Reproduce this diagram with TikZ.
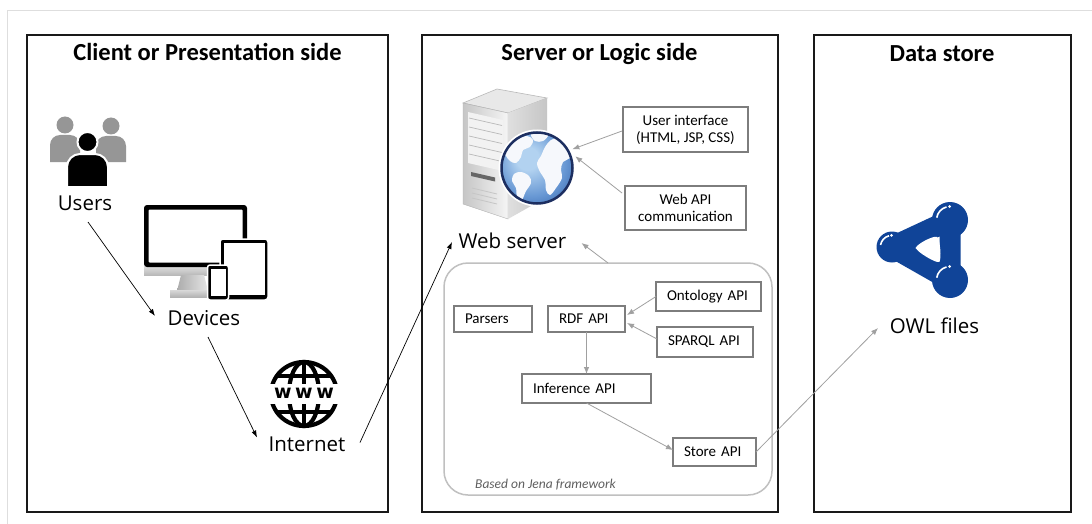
\documentclass[tikz,border=0pt]{standalone}
\usepackage{fontspec}
\setmainfont{Carlito}
\newfontfamily\labelfont{Open Sans}
\newfontfamily\symfont{DejaVu Sans}
\usetikzlibrary{arrows.meta,calc}

\definecolor{panelblack}{RGB}{25,25,25}
\definecolor{boxgray}{RGB}{125,125,125}
\definecolor{arrgray}{RGB}{160,160,160}
\definecolor{framegray}{RGB}{192,192,192}
\definecolor{outergray}{RGB}{222,222,222}
\definecolor{notegray}{RGB}{95,95,95}
\definecolor{usergray}{RGB}{150,150,150}
\definecolor{owlblue}{RGB}{16,68,152}
\definecolor{globenavy}{RGB}{28,46,96}
\definecolor{globelight}{RGB}{178,210,240}
\definecolor{globemid}{RGB}{104,152,212}
\definecolor{globedark}{RGB}{40,88,162}
\definecolor{landwhite}{RGB}{246,248,252}

% soft blue sphere for the server globe
\pgfdeclareradialshading{globeshade}{\pgfpoint{-8bp}{8bp}}{%
  color(0bp)=(globelight); color(8bp)=(globelight);
  color(24bp)=(globemid); color(40bp)=(globedark); color(50bp)=(globedark)}

\begin{document}
\begin{tikzpicture}[x=1pt,y=-1pt,
  panel/.style={draw=panelblack, line width=1.6pt, rectangle, inner sep=0pt, outer sep=0pt},
  paneltitle/.style={font=\fontsize{24.5}{28}\selectfont\bfseries, anchor=base, inner sep=0pt},
  biglabel/.style={font=\labelfont\fontsize{20.5}{24}\selectfont, anchor=base, inner sep=0pt},
  apibox/.style={draw=boxgray, line width=1.3pt, fill=white, rectangle,
    font=\fontsize{15}{17}\selectfont, inner xsep=11pt, inner ysep=0pt, align=left, outer sep=0pt},
  uibox/.style={draw=boxgray, line width=1.3pt, fill=white, rectangle,
    font=\fontsize{15}{17}\selectfont, align=center, inner sep=0pt, outer sep=0pt},
  darrow/.style={-{Latex[length=7pt,width=5pt]}, line width=0.7pt, black},
  garrow/.style={-{Latex[length=7pt,width=5.5pt]}, line width=0.8pt, arrgray}]

\useasboundingbox (0,0) rectangle (1092,524);
\fill[white] (0,0) rectangle (1092,524);

% outer sheet edge
\draw[outergray, line width=1pt] (7,524) -- (7,11) -- (1092,11);

% the three tiers
\node[panel, minimum width=361pt, minimum height=477pt] (client) at (207.5,273.5) {};
\node[panel, minimum width=356pt, minimum height=477pt] (server) at (600,273.5) {};
\node[panel, minimum width=257pt, minimum height=477pt] (data) at (942.5,273.5) {};

\node[paneltitle] (clienttitle) at (207.5,60.5) {Client or Presentation side};
\node[paneltitle] (servertitle) at (599.5,61) {Server or Logic side};
\node[paneltitle] (datatitle) at (942,61.5) {Data store};

% ---- users icon
\fill[usergray] (65,125) circle [radius=8.5];
\fill[usergray] (111,126) circle [radius=8.5];
\fill[usergray] (50,162) -- (50,145) arc[start angle=180, end angle=270, radius=10]
  -- (70,135) arc[start angle=270, end angle=360, radius=10] -- (80,162) -- cycle;
\fill[usergray] (96,162) -- (96,146) arc[start angle=180, end angle=270, radius=10]
  -- (116,136) arc[start angle=270, end angle=360, radius=10] -- (126,162) -- cycle;
\filldraw[fill=black, draw=white, line width=2pt] (67,187) -- (67,167) arc[start angle=180, end angle=270, radius=13]
  -- (95,154) arc[start angle=270, end angle=360, radius=13] -- (108,187) -- cycle;
\filldraw[fill=black, draw=white, line width=2pt] (87.5,142) circle [radius=10];

% ---- devices icon
\shade[top color=gray!25, bottom color=gray!55] (144,266) rectangle (240,275);
\shade[left color=gray!65, right color=gray!20] (181,275) -- (204,275) -- (208,291) -- (177,291) -- cycle;
\shade[top color=gray!30, bottom color=gray!60] (170,290) rectangle (214,297);
\fill[black, rounded corners=3pt] (144,205) rectangle (247,267);
\fill[white, rounded corners=1pt] (148.5,209.5) rectangle (242.5,262.5);
\filldraw[fill=black, draw=white, line width=1.5pt, rounded corners=3pt] (220,239) rectangle (268,300);
\fill[white] (223.5,242.5) rectangle (264.5,295);
\filldraw[fill=black, draw=white, line width=1.5pt, rounded corners=2.5pt] (207.5,265) rectangle (228.5,300);
\fill[white] (210.5,268.5) rectangle (225.5,296);

% ---- www globe
\begin{scope}[line width=4.2pt, black]
  \draw (304,394) ellipse [x radius=33, y radius=32];
  \draw (304,362) -- (304,426);
  \draw (304,394) ellipse [x radius=15, y radius=32];
  \draw (277,376) -- (331,376);
  \draw (277,412) -- (331,412);
\end{scope}
\fill[white] (265,384) rectangle (343,404);
\node[font=\symfont\bfseries\fontsize{19}{19}\selectfont, inner sep=0pt] (www) at (304,393)
  {w\kern3.5pt w\kern3.5pt w};

% ---- web server tower
\fill[gray!18, draw=gray!55, line width=0.6pt] (463,103) -- (497,89) -- (547,98) -- (508,113) -- cycle;
\shade[left color=gray!45, right color=gray!8, draw=gray!60] (463,103) -- (508,113) -- (508,219) -- (463,204) -- cycle;
\shade[left color=gray!25, right color=gray!45] (508,113) -- (547,98) -- (547,197) -- (508,219) -- cycle;
\fill[gray!10] (468,112) -- (503,120) -- (503,171) -- (468,163) -- cycle;
\foreach \yy in {118,127,136,145,154} \draw[gray!55, line width=0.7pt] (469,\yy) -- (502,\yy+7.5);
\fill[gray!80!black] (471,172) -- (495,177.5) -- (495,181.5) -- (471,176) -- cycle;
\foreach \yy in {188,193,198} \draw[gray!45, line width=0.8pt] (472,\yy) -- (497,\yy+6);

% globe on the server
\node[circle, minimum size=80pt, inner sep=0pt, outer sep=0pt] (sglobe) at (537,168) {};
\fill[white] (sglobe.center) circle [radius=38.5];
\shade[shading=globeshade] (sglobe.center) circle [radius=35.5];
\begin{scope}
  \clip (sglobe.center) circle [radius=35.5];
  % Americas
  \fill[landwhite] plot[smooth cycle, tension=0.6] coordinates {(503,150) (509,142) (518,139) (527,136) (533,140) (530,147) (523,150) (521,157) (516,163) (510,161) (506,156)};
  \fill[landwhite] plot[smooth cycle, tension=0.6] coordinates {(514,174) (521,172) (529,176) (531,183) (526,191) (521,202) (517,199) (516,188) (512,181)};
  % Greenland
  \fill[landwhite] plot[smooth cycle, tension=0.6] coordinates {(531,134) (540,132) (548,135) (543,141) (535,141)};
  % Europe, Africa
  \fill[landwhite] plot[smooth cycle, tension=0.6] coordinates {(545,147) (551,140) (559,138) (568,142) (573,150) (570,158) (563,162) (561,170) (562,178) (556,188) (550,195) (546,190) (545,180) (540,172) (537,163) (541,156)};
\end{scope}
\draw[globenavy, line width=2.5pt] (sglobe.center) circle [radius=35.5];

% ---- OWL icon
\coordinate (owla) at (892,247);
\coordinate (owlb) at (950,220);
\coordinate (owlc) at (950,280);
\draw[owlblue, line width=21pt, line join=round] (owla) -- (owlb) -- (owlc) -- cycle;
\fill[white] plot[smooth cycle, tension=0.5] coordinates {(916,248) (937,237) (939,262)};
\fill[owlblue] (owla) circle [radius=15.5];
\fill[owlblue] (owlb) circle [radius=18];
\fill[owlblue] (owlc) circle [radius=18];
\foreach \c/\r in {owla/15.5, owlb/18, owlc/18}{
  \draw[white, line width=1.6pt] ($(\c)+(-170:\r*0.75)$) arc[start angle=-170, end angle=-105, radius=\r*0.75];
  \fill[white] ($(\c)+(-92:\r*0.75)$) circle [radius=1.5];
}

% ---- labels
\node[biglabel] (users) at (85,210) {Users};
\node[biglabel] (devices) at (204,325) {Devices};
\node[biglabel] (internet) at (307,451.5) {Internet};
\node[biglabel] (webserver) at (512.5,248) {Web server};
\node[biglabel] (owl) at (934.5,333) {OWL files};

% ---- server side boxes
\node[uibox, minimum width=125pt, minimum height=45pt] (ui) at (685.5,129.5) {User interface\\(HTML, JSP, CSS)};
\node[uibox, minimum width=121pt, minimum height=44pt] (webapi) at (685.5,208) {Web API\\communication};

\node[draw=framegray, line width=1.5pt, rounded corners=24pt, minimum width=328pt,
  minimum height=232pt, inner sep=0pt, outer sep=0pt] (jena) at (608,379) {};
\node[font=\itshape\fontsize{13.5}{16}\selectfont, text=notegray, anchor=base west, inner sep=0pt]
  (jenanote) at (475,488.5) {Based on Jena framework};

\node[apibox, text width=56pt, minimum height=26pt] (parsers) at (493,319) {Parsers};
\node[apibox, text width=55pt, minimum height=26pt] (rdf) at (586.5,319) {RDF API};
\node[apibox, text width=83pt, minimum height=29pt] (onto) at (708.5,296.5) {Ontology API};
\node[apibox, text width=74pt, minimum height=30pt] (sparql) at (705,342) {SPARQL API};
\node[apibox, text width=107pt, minimum height=29pt] (inference) at (586.5,388.5) {Inference API};
\node[apibox, text width=61pt, minimum height=28pt] (store) at (714.5,452) {Store API};

% ---- connectors
\draw[darrow] ($(users.base)+(3,12)$) -- ($(devices.base)+(-49,-9)$);
\draw[darrow] ($(devices.base)+(4,12)$) -- ($(internet.base)+(-50,-14)$);
\draw[darrow] ($(internet.base)+(53,-9)$) -- ($(webserver.base)+(-60.5,-6)$);

\draw[garrow] ($(ui.west)+(-1,1.5)$) -- (sglobe.28);
\draw[garrow] ($(webapi.north west)+(-3,7)$) -- (sglobe.17);
\draw[garrow] (jena.north) -- ($(webserver.base)+(69,-5)$);

\draw[garrow] (onto.west) -- ($(rdf.east)+(2,-4)$);
\draw[garrow] ($(sparql.west)+(0,-3)$) -- ($(rdf.east)+(2,4)$);
\draw[garrow] (rdf.south) -- (inference.north);
\draw[garrow] (inference.south) -- ($(store.west)+(0,-2)$);
\draw[garrow] (store.east) -- ($(owl.base)+(-56.5,-5)$);

\end{tikzpicture}
\end{document}
